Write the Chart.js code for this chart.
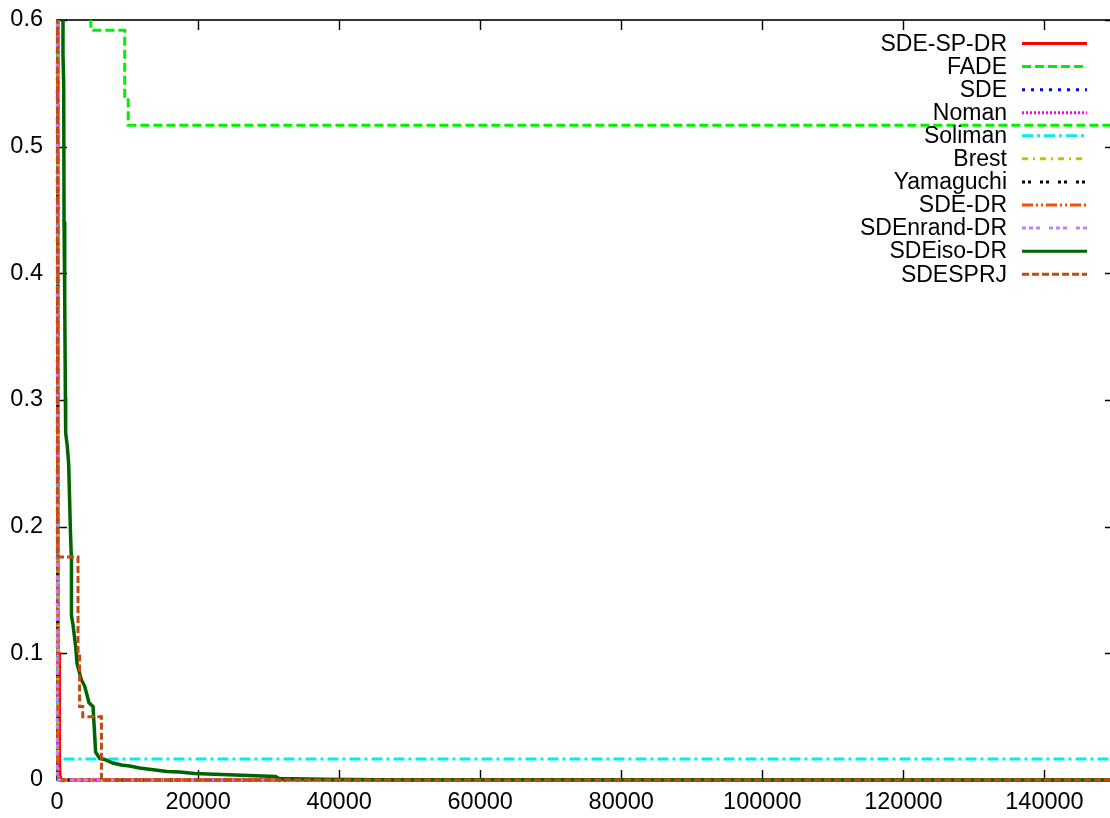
<!DOCTYPE html>
<html>
<head>
<meta charset="utf-8">
<script src="https://cdn.jsdelivr.net/npm/chart.js@4/dist/chart.umd.min.js"></script>
<style>
  html, body { margin: 0; padding: 0; background: #fff; overflow: hidden; }
  #wrap { width: 1110px; height: 818px; overflow: hidden; position: relative; }
  canvas { display: block; }
</style>
</head>
<body>
<div id="wrap"><canvas id="c" width="1125" height="818"></canvas></div>
<script>
// Convergence curves: best error vs. function evaluations, one [evaluations, error] list per algorithm.
const seriesNames = ['SDE-SP-DR', 'FADE', 'SDE', 'Noman', 'Soliman', 'Brest',
                     'Yamaguchi', 'SDE-DR', 'SDEnrand-DR', 'SDEiso-DR', 'SDESPRJ'];

const sdeSpDr = [[140, 0.95], [140, 0.10], [300, 0.10], [300, 0.058], [380, 0.058], [380, 0.016], [450, 0.003], [600, 0], [150000, 0]];
const fade = [[4800, 0.95], [4800, 0.592], [9600, 0.592], [9600, 0.537], [10100, 0.537], [10100, 0.517], [150000, 0.517]];
const sde = [[90, 0.95], [90, 0.10], [160, 0.001], [300, 0], [150000, 0]];
const noman = [[70, 0.95], [70, 0.02], [200, 0.001], [400, 0], [150000, 0]];
const soliman = [[110, 0.95], [110, 0.0166], [150000, 0.0166]];
const brest = [[120, 0.95], [120, 0.01], [250, 0], [150000, 0]];
const yamaguchi = [[100, 0.95], [100, 0.005], [300, 0], [150000, 0]];
const sdeDr = [[130, 0.95], [130, 0.004], [260, 0], [150000, 0]];
const sdeNrandDr = [[40, 0.95], [40, 0.003], [200, 0], [150000, 0]];
const sdeIsoDr = [[850, 0.95], [850, 0.572], [950, 0.55], [1000, 0.441], [1090, 0.417], [1100, 0.38],
                  [1190, 0.302], [1230, 0.274], [1470, 0.263], [1660, 0.249], [1900, 0.197], [2050, 0.173],
                  [2050, 0.130], [2280, 0.122], [2650, 0.105], [2840, 0.092], [3460, 0.079], [3930, 0.074],
                  [4540, 0.061], [5110, 0.058], [5480, 0.022], [6060, 0.017], [6760, 0.0162], [7900, 0.0134],
                  [9130, 0.0118], [10300, 0.011], [11700, 0.0095], [15600, 0.0068], [17400, 0.0064],
                  [19500, 0.0052], [24300, 0.0042], [31000, 0.0027], [31500, 0.0012], [38000, 0.0006],
                  [46000, 0.0002], [60000, 0.0001], [150000, 0]];
const sdeSprj = [[60, 0.95], [60, 0.176], [2980, 0.176], [2980, 0.10], [3200, 0.10], [3200, 0.058],
                 [3650, 0.058], [3650, 0.050], [6300, 0.050], [6300, 0], [150000, 0]];

const xTicks = [0, 20000, 40000, 60000, 80000, 100000, 120000, 140000];
const yTicks = [0, 0.1, 0.2, 0.3, 0.4, 0.5, 0.6];

const seriesData = [sdeSpDr, fade, sde, noman, soliman, brest, yamaguchi, sdeDr, sdeNrandDr, sdeIsoDr, sdeSprj];

// line appearance per curve, gnuplot-like
const styles = [
  { color: '#ff0000', dash: [],                     width: 3 },
  { color: '#00f000', dash: [9, 4],                 width: 3 },
  { color: '#0000ff', dash: [3, 6],                 width: 3 },
  { color: '#ff00ff', dash: [2, 2],                 width: 3 },
  { color: '#00f0f0', dash: [11, 4, 3, 4],          width: 3 },
  { color: '#c8c000', dash: [6, 5, 2, 5],           width: 3 },
  { color: '#000000', dash: [3, 3, 3, 9],           width: 3 },
  { color: '#ff4a00', dash: [11, 3, 2, 3, 2, 3],    width: 3 },
  { color: '#c080ff', dash: [4, 3, 4, 3, 4, 9],     width: 3 },
  { color: '#006400', dash: [],                     width: 3.5 },
  { color: '#c44a10', dash: [7, 3],                 width: 3 }
];

const FONT = '"Liberation Sans", Arial, Helvetica, sans-serif';
Chart.defaults.font.family = FONT;
Chart.defaults.font.size = 23.5;
Chart.defaults.color = '#000';

const datasets = seriesNames.map((name, i) => ({
  label: name,
  data: seriesData[i].map(p => ({ x: p[0], y: p[1] })),
  borderColor: styles[i].color,
  borderDash: styles[i].dash,
  borderWidth: styles[i].width,
  pointRadius: 0,
  fill: false,
  tension: 0,
  order: seriesNames.length - i,
  clip: { left: 4, top: 0, right: 0, bottom: 4 }
}));

// border box with inward ticks on all four sides
const framePlugin = {
  id: 'frameTicks',
  beforeDatasetsDraw(chart) {
    const { ctx, chartArea: a, scales: { x, y } } = chart;
    ctx.save();
    ctx.strokeStyle = '#000';
    ctx.lineWidth = 1.6;
    ctx.strokeRect(a.left, a.top, a.right - a.left, a.bottom - a.top);
    ctx.lineWidth = 1.4;
    ctx.beginPath();
    x.ticks.forEach(t => {
      const px = Math.round(x.getPixelForValue(t.value)) + 0.5;
      ctx.moveTo(px, a.bottom); ctx.lineTo(px, a.bottom - 10);
      ctx.moveTo(px, a.top); ctx.lineTo(px, a.top + 10);
    });
    y.ticks.forEach(t => {
      const py = Math.round(y.getPixelForValue(t.value)) + 0.5;
      ctx.moveTo(a.left, py); ctx.lineTo(a.left + 10, py);
      ctx.moveTo(a.right, py); ctx.lineTo(a.right - 10, py);
    });
    ctx.stroke();
    ctx.restore();
  }
};

// key in the upper right: right-aligned titles followed by line samples
const keyPlugin = {
  id: 'keyBox',
  afterDatasetsDraw(chart) {
    const ctx = chart.ctx;
    ctx.save();
    ctx.font = '23px ' + FONT;
    ctx.textAlign = 'right';
    ctx.textBaseline = 'middle';
    chart.data.datasets.forEach((ds, i) => {
      const yy = 43.5 + i * 23.07;
      ctx.fillStyle = '#000';
      ctx.fillText(ds.label, 1007, yy + 1);
      ctx.beginPath();
      ctx.setLineDash(ds.borderDash);
      ctx.strokeStyle = ds.borderColor;
      ctx.lineWidth = 3;
      ctx.moveTo(1022, yy);
      ctx.lineTo(1087, yy);
      ctx.stroke();
    });
    ctx.restore();
  }
};

new Chart(document.getElementById('c'), {
  type: 'line',
  data: { datasets },
  plugins: [framePlugin, keyPlugin],
  options: {
    responsive: false,
    animation: false,
    devicePixelRatio: 1,
    layout: { padding: { left: 0, top: 20, right: 10, bottom: 0 } },
    plugins: { legend: { display: false }, tooltip: { enabled: false } },
    scales: {
      x: {
        type: 'linear',
        min: 0,
        max: 150000,
        grid: { display: false, drawTicks: false },
        border: { display: false },
        afterBuildTicks: s => { s.ticks = xTicks.map(v => ({ value: v })); },
        afterFit: s => { s.height = 38; s.paddingLeft = 0; s.paddingRight = 0; },
        ticks: { padding: 8, maxRotation: 0, autoSkip: false, callback: v => String(v) }
      },
      y: {
        type: 'linear',
        min: 0,
        max: 0.6,
        grid: { display: false, drawTicks: false },
        border: { display: false },
        afterBuildTicks: s => { s.ticks = yTicks.map(v => ({ value: v })); },
        afterFit: s => { s.width = 57; s.paddingTop = 0; s.paddingBottom = 0; },
        ticks: { padding: 14, autoSkip: false, callback: v => String(v) }
      }
    }
  }
});
</script>
</body>
</html>
